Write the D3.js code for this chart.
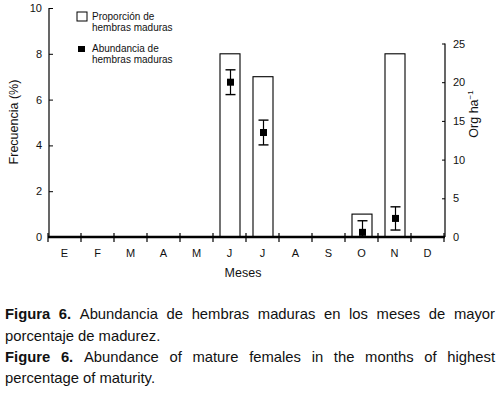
<!DOCTYPE html>
<html><head><meta charset="utf-8">
<script src="https://cdn.jsdelivr.net/npm/d3@7"></script>
<style>body{margin:0;background:#fff}svg{display:block}text{font-family:"Liberation Sans",Arial,sans-serif;fill:#111}</style>
</head><body><svg id="c" width="500" height="394"></svg>
<script>
const months = ["E","F","M","A","M","J","J","A","S","O","N","D"];
const propMonths = [5,6,9,10];
const propValues = [8,7,1,8];
const abundMonths = [5,6,9,10];
const abundValues = [20,13.5,0.6,2.4];
const abundErr = [1.6,1.6,1.5,1.5];
const leftTicks = [0,2,4,6,8,10];
const rightTicks = [0,5,10,15,20,25];

const svg = d3.select("#c");
const x = d3.scaleBand().domain(d3.range(12)).range([48,444]).paddingInner(0).paddingOuter(0);
const yL = d3.scaleLinear().domain([0,10]).range([237,8]);
const yR = d3.scaleLinear().domain([0,25]).range([237,43.5]);

// bars
svg.selectAll("rect.bar").data(propMonths).join("rect")
  .attr("x",d=>x(d)+x.bandwidth()/2-9.5).attr("width",20)
  .attr("y",(d,i)=>yL(propValues[i])).attr("height",(d,i)=>yL(0)-yL(propValues[i]))
  .attr("fill","#fff").attr("stroke","#000").attr("stroke-width",1.1);

// error bars & points
const g = svg.append("g");
abundMonths.forEach((m,i)=>{
  const cx = x(m)+x.bandwidth()/2+1;
  const hi = yR(abundValues[i]+abundErr[i]), lo = Math.min(yR(Math.max(0,abundValues[i]-abundErr[i])),237);
  g.append("line").attr("x1",cx).attr("x2",cx).attr("y1",hi).attr("y2",lo).attr("stroke","#000").attr("stroke-width",1.2);
  g.append("line").attr("x1",cx-5).attr("x2",cx+5).attr("y1",hi).attr("y2",hi).attr("stroke","#000").attr("stroke-width",1.4);
  g.append("line").attr("x1",cx-5).attr("x2",cx+5).attr("y1",lo).attr("y2",lo).attr("stroke","#000").attr("stroke-width",1.4);
  g.append("rect").attr("x",cx-3.5).attr("y",yR(abundValues[i])-3.5).attr("width",7).attr("height",7).attr("fill","#000");
});

// left axis
const la = svg.append("g").attr("transform","translate(49,0)")
  .call(d3.axisRight(yL).tickValues(leftTicks).tickSize(4).tickFormat(d3.format("d")));
la.select(".domain").attr("d","M0,"+yL(10)+"V"+yL(0)).attr("stroke-width",1.2);
la.selectAll("text").attr("x",-7).attr("text-anchor","end").attr("font-size",11);

// right axis
const ra = svg.append("g").attr("transform","translate(445,0)")
  .call(d3.axisLeft(yR).tickValues(rightTicks).tickSize(3).tickFormat(d3.format("d")));
ra.select(".domain").attr("d","M0,"+yR(25)+"V"+yR(0)).attr("stroke-width",1.2);
ra.selectAll("text").attr("x",8).attr("text-anchor","start").attr("font-size",11);

// x axis
const xa = svg.append("g").attr("transform","translate(0,237)");
xa.append("line").attr("x1",48).attr("x2",445).attr("stroke","#000").attr("stroke-width",2.4);
xa.selectAll("line.t").data(d3.range(13)).join("line").attr("class","t")
  .attr("x1",d=>48+d*x.bandwidth()).attr("x2",d=>48+d*x.bandwidth())
  .attr("y1",-4).attr("y2",5).attr("stroke","#000").attr("stroke-width",1.2);
xa.selectAll("text").data(months).join("text")
  .attr("x",(d,i)=>x(i)+x.bandwidth()/2).attr("y",20).attr("text-anchor","middle").attr("font-size",11).text(d=>d);

// axis titles
svg.append("text").attr("transform","translate(18,122) rotate(-90)").attr("text-anchor","middle").attr("font-size",12.5).text("Frecuencia (%)");
svg.append("text").attr("x",243).attr("y",277).attr("text-anchor","middle").attr("font-size",12.5).text("Meses");
const rt = svg.append("text").attr("transform","translate(478,114) rotate(-90)").attr("text-anchor","middle").attr("font-size",12.5);
rt.append("tspan").text("Org ha");
rt.append("tspan").attr("dy",-5).attr("font-size",8).text("−1");

// legend
svg.append("rect").attr("x",77).attr("y",12).attr("width",10).attr("height",9).attr("fill","#fff").attr("stroke","#000");
svg.append("text").attr("x",92).attr("y",20).attr("font-size",10).text("Proporción de");
svg.append("text").attr("x",92).attr("y",31).attr("font-size",10).text("hembras maduras");
svg.append("rect").attr("x",78).attr("y",46).attr("width",7).attr("height",6).attr("fill","#000");
svg.append("text").attr("x",92).attr("y",52).attr("font-size",10).text("Abundancia de");
svg.append("text").attr("x",92).attr("y",63).attr("font-size",10).text("hembras maduras");

// caption
function justify(words, y, left, right, justifyLine){
  const t = svg.append("g");
  const nodes = words.map(w=>t.append("text").attr("y",y).attr("font-size",14.8).attr("font-weight",w.b?"bold":"normal").text(w.t));
  const widths = nodes.map(n=>n.node().getComputedTextLength());
  const total = d3.sum(widths);
  const gap = justifyLine ? (right-left-total)/(words.length-1) : 4.0;
  let cx = left;
  nodes.forEach((n,i)=>{ n.attr("x",cx); cx += widths[i]+gap; });
}
const w = s=>s.split(" ").map(t=>({t}));
justify([{t:"Figura",b:1},{t:"6.",b:1},...w("Abundancia de hembras maduras en los meses de mayor")],319,5,495,true);
justify(w("porcentaje de madurez."),341,5,495,false);
justify([{t:"Figure",b:1},{t:"6.",b:1},...w("Abundance of mature females in the months of highest")],362,5,495,true);
justify(w("percentage of maturity."),383,5,495,false);
</script></body></html>
